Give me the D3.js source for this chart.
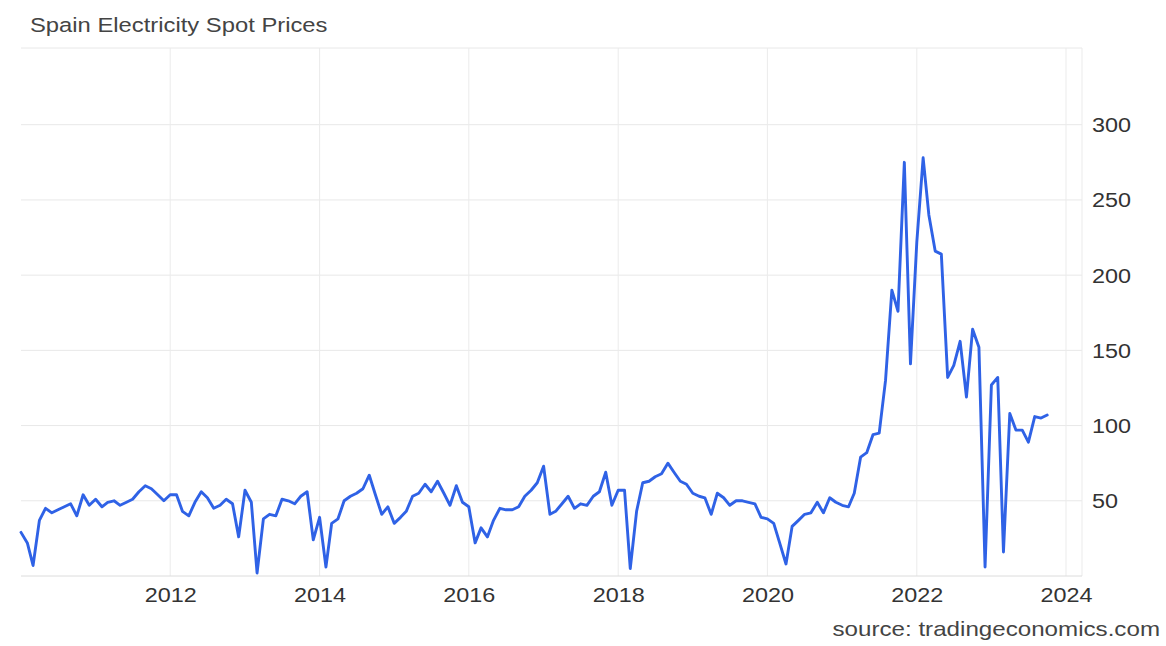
<!DOCTYPE html>
<html>
<head>
<meta charset="utf-8">
<script src="https://cdn.jsdelivr.net/npm/d3@7"></script>
<style>
  html, body { margin: 0; padding: 0; background: #fff; }
  svg { display: block; }
  text { font-family: "Liberation Sans", Arial, sans-serif; }
</style>
</head>
<body>
<svg id="chart" width="1166" height="646"></svg>
<script>
const title = "Spain Electricity Spot Prices";
const sourceText = "source: tradingeconomics.com";
const startYear = 2010;
const startMonth = 0;
const prices = [
  // 2010
  29, 22, 7, 37, 45, 42, 44, 46, 48, 40, 54, 47,
  // 2011
  51, 46, 49, 50, 47, 49, 51, 56, 60, 58, 54, 50,
  // 2012
  54, 54, 43, 40, 49, 56, 52, 45, 47, 51, 48, 26,
  // 2013
  57, 49, 2, 38, 41, 40, 51, 50, 48, 53, 56, 24,
  // 2014
  39, 6, 35, 38, 50, 53, 55, 58, 67, 54, 41, 46,
  // 2015
  35, 39, 43, 53, 55, 61, 56, 63, 55, 47, 60, 49,
  // 2016
  46, 22, 32, 26, 37, 45, 44, 44, 46, 53, 57, 62,
  // 2017
  73, 41, 43, 48, 53, 45, 48, 47, 53, 56, 69, 47,
  // 2018
  57, 57, 5, 43, 62, 63, 66, 68, 75, 69, 63, 61,
  // 2019
  55, 53, 52, 41, 55, 52, 47, 50, 50, 49, 48, 39,
  // 2020
  38, 35, 22, 8, 33, 37, 41, 42, 49, 42, 52, 49,
  // 2021
  47, 46, 55, 79, 82, 94, 95, 130, 190, 176, 275, 141,
  // 2022
  222, 278, 240, 216, 214, 132, 140, 156, 119, 164, 152, 6,
  // 2023
  127, 132, 16, 108, 97, 97, 89, 106, 105, 107
];
const xTickYears = [2012, 2014, 2016, 2018, 2020, 2022, 2024];
const yTickValues = [50, 100, 150, 200, 250, 300];

const data = prices.map((v, i) => ({ date: new Date(startYear, startMonth + i, 1), value: v }));

const svg = d3.select("#chart");
const stretch = 1.2;

const pLeft = 21, pRight = 1082, pTop = 48, pBottom = 576;
const x = d3.scaleTime()
  .domain([new Date(2010, 0, 1), new Date(2024, 0, 1)])
  .range([pLeft, 1066]);
const y = d3.scaleLinear().domain([0, 351]).range([pBottom, pTop]);

// horizontal gridlines
svg.append("g").selectAll("line").data(yTickValues.concat([351])).join("line")
  .attr("x1", pLeft).attr("x2", pRight)
  .attr("y1", d => y(d)).attr("y2", d => y(d))
  .attr("stroke", "#e8e8e8").attr("stroke-width", 1);

// vertical gridlines
svg.append("g").selectAll("line").data(xTickYears).join("line")
  .attr("x1", d => x(new Date(d, 0, 1))).attr("x2", d => x(new Date(d, 0, 1)))
  .attr("y1", pTop).attr("y2", pBottom)
  .attr("stroke", "#ebebeb").attr("stroke-width", 1);

// right border of plot
svg.append("line").attr("x1", pRight).attr("x2", pRight).attr("y1", pTop).attr("y2", pBottom)
  .attr("stroke", "#ebebeb");

// bottom axis line
svg.append("line").attr("x1", pLeft).attr("x2", pRight).attr("y1", pBottom).attr("y2", pBottom)
  .attr("stroke", "#dcdcdc");

// x axis labels
const xAxis = d3.axisBottom(x)
  .tickValues(xTickYears.map(yy => new Date(yy, 0, 1)))
  .tickFormat(d3.timeFormat("%Y"))
  .tickSize(0);
const gx = svg.append("g").attr("transform", `translate(0,${pBottom})`).call(xAxis);
gx.select(".domain").remove();
gx.selectAll("text")
  .attr("y", 0).attr("dy", 0)
  .attr("transform", `translate(0,25.5) scale(${stretch},1)`)
  .attr("x", 0)
  .attr("font-size", 19.5).attr("fill", "#333")
  .attr("font-family", "Liberation Sans, Arial, sans-serif");

// y axis labels (right)
const yAxis = d3.axisRight(y).tickValues(yTickValues).tickSize(0);
const gy = svg.append("g").attr("transform", `translate(1092,0)`).call(yAxis);
gy.select(".domain").remove();
gy.selectAll("text")
  .attr("x", 0).attr("dy", "0.36em")
  .attr("transform", `scale(${stretch},1)`)
  .attr("font-size", 19.5).attr("fill", "#333")
  .attr("font-family", "Liberation Sans, Arial, sans-serif");

// line
const line = d3.line().x(d => x(d.date)).y(d => y(d.value));
svg.append("path").datum(data)
  .attr("d", line)
  .attr("fill", "none")
  .attr("stroke", "#2f62e6")
  .attr("stroke-width", 2.9)
  .attr("stroke-linejoin", "round")
  .attr("stroke-linecap", "round");

// title
svg.append("text")
  .attr("transform", `translate(30,31.5) scale(1.22,1)`)
  .attr("font-size", 19.5).attr("fill", "#444")
  .text(title);

// source
svg.append("text")
  .attr("transform", `translate(1160,636) scale(1.22,1)`)
  .attr("text-anchor", "end")
  .attr("font-size", 19.8).attr("fill", "#444")
  .text(sourceText);
</script>
</body>
</html>
